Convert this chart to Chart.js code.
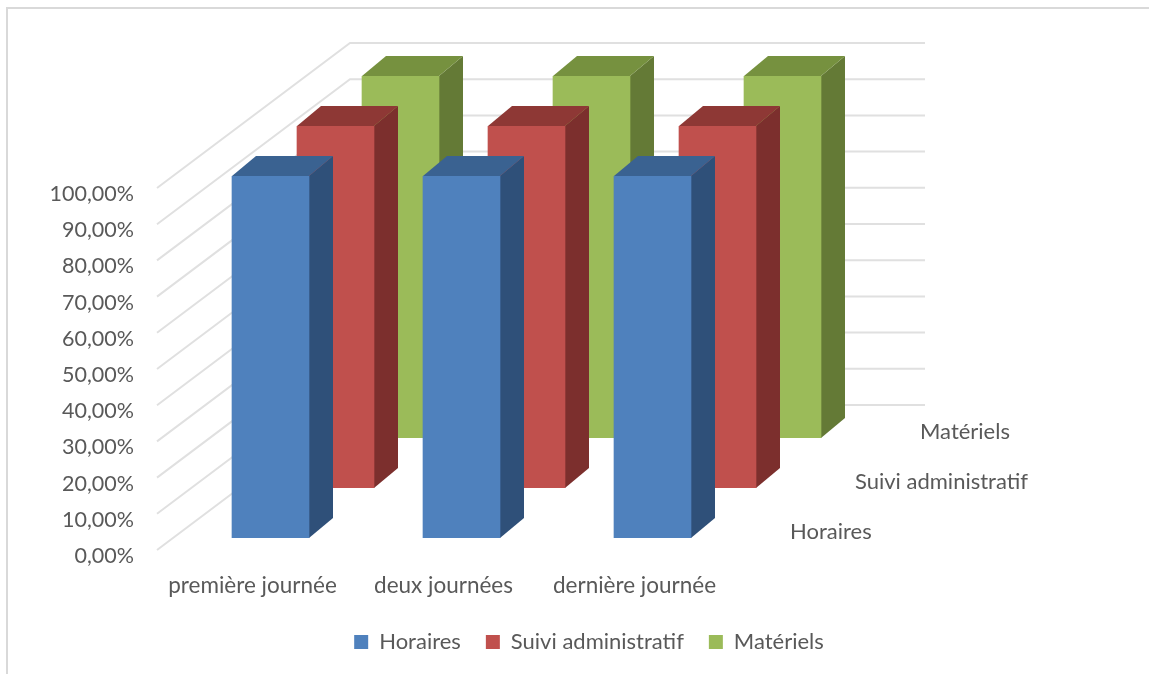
<!DOCTYPE html>
<html>
<head>
<meta charset="utf-8">
<title>Chart</title>
<script src="https://cdn.jsdelivr.net/npm/chart.js@4"></script>
<style>
    html, body { margin: 0; padding: 0; background: #fff; overflow: hidden; }
    canvas { display: block; }
</style>
</head>
<body>
<canvas id="chart3d" width="1149" height="674"></canvas>
<script>
const categories = ["première journée", "deux journées", "dernière journée"];
const seriesNames = ["Horaires", "Suivi administratif", "Matériels"];
const horaires = [100, 100, 100];
const suiviAdministratif = [100, 100, 100];
const materiels = [100, 100, 100];
const tickValues = [0, 10, 20, 30, 40, 50, 60, 70, 80, 90, 100];

const frontColors = ["#4f81bd", "#c0504d", "#9bbb59"];
const topColors = ["#3a6291", "#8e3835", "#76913f"];
const sideColors = ["#2f5079", "#7c2f2d", "#647a36"];

// offset of each row on the floor, the 3D look comes from this
const rowShift = [[18, -12], [83, -62], [148, -112]];
const barDepth = [24, -20];
const wallShift = [193, -145];
const wallRight = 925;
const textColor = "#595959";
const fontFamily = "Lato, 'Open Sans', sans-serif";

const fake3d = {
    id: "fake3d",
    // frame, walls and the row names on the right
    beforeDatasetsDraw(chart) {
        const ctx = chart.ctx;
        const y = chart.scales.y;
        const x = chart.scales.x;
        ctx.save();
        ctx.strokeStyle = "#d9d9d9";
        ctx.lineWidth = 2;
        ctx.beginPath();
        ctx.moveTo(7, 674);
        ctx.lineTo(7, 8);
        ctx.lineTo(1149, 8);
        ctx.stroke();

        ctx.strokeStyle = "#e0e0e0";
        ctx.lineWidth = 2;
        tickValues.forEach(v => {
            const py = y.getPixelForValue(v);
            ctx.beginPath();
            ctx.moveTo(x.left, py);
            ctx.lineTo(x.left + wallShift[0], py + wallShift[1]);
            ctx.lineTo(wallRight, py + wallShift[1]);
            ctx.stroke();
        });

        ctx.fillStyle = textColor;
        ctx.font = "22px " + fontFamily;
        ctx.textBaseline = "middle";
        seriesNames.forEach((name, i) => {
            ctx.fillText(name, x.right + rowShift[i][0] + 42, y.getPixelForValue(0) + rowShift[i][1] - 6);
        });
        ctx.restore();
    },
    beforeDatasetDraw(chart, args) {
        const ctx = chart.ctx;
        const i = args.index;
        ctx.save();
        ctx.translate(rowShift[i][0], rowShift[i][1]);
        args.meta.data.forEach(bar => {
            const p = bar.getProps(["x", "y", "base", "width"], true);
            const right = p.x + p.width / 2;
            const left = p.x - p.width / 2;
            ctx.fillStyle = sideColors[i];
            ctx.beginPath();
            ctx.moveTo(right, p.y);
            ctx.lineTo(right + barDepth[0], p.y + barDepth[1]);
            ctx.lineTo(right + barDepth[0], p.base + barDepth[1]);
            ctx.lineTo(right, p.base);
            ctx.closePath();
            ctx.fill();
            ctx.fillStyle = topColors[i];
            ctx.beginPath();
            ctx.moveTo(left, p.y);
            ctx.lineTo(left + barDepth[0], p.y + barDepth[1]);
            ctx.lineTo(right + barDepth[0], p.y + barDepth[1]);
            ctx.lineTo(right, p.y);
            ctx.closePath();
            ctx.fill();
        });
    },
    afterDatasetDraw(chart) {
        chart.ctx.restore();
    },
    // legend is centred on the plot box by default, the original has it further right
    afterLayout(chart) {
        chart.legend.left += 224;
        chart.legend.right += 224;
    }
};

new Chart(document.getElementById("chart3d").getContext("2d"), {
    type: "bar",
    data: {
        labels: categories,
        datasets: [
            { label: seriesNames[0], data: horaires, backgroundColor: frontColors[0] },
            { label: seriesNames[1], data: suiviAdministratif, backgroundColor: frontColors[1] },
            { label: seriesNames[2], data: materiels, backgroundColor: frontColors[2] }
        ]
    },
    options: {
        responsive: false,
        animation: false,
        layout: { padding: { top: 188, right: 419, bottom: 11, left: 0 } },
        datasets: { bar: { grouped: false, barThickness: 77 } },
        scales: {
            x: {
                grid: { display: false },
                border: { display: false },
                ticks: { color: textColor, font: { family: fontFamily, size: 22.5 }, padding: 14, maxRotation: 0 },
                afterFit(scale) { scale.height = 56; }
            },
            y: {
                min: 0,
                max: 100,
                grid: { display: false },
                border: { display: false },
                afterBuildTicks(scale) { scale.ticks = tickValues.map(v => ({ value: v })); },
                ticks: {
                    color: textColor,
                    font: { family: fontFamily, size: 21.5 },
                    padding: 15,
                    labelOffset: 6,
                    callback: v => v.toFixed(2).replace(".", ",") + "%"
                },
                afterFit(scale) { scale.width = 157; }
            }
        },
        plugins: {
            legend: {
                position: "bottom",
                labels: {
                    color: textColor,
                    font: { family: fontFamily, size: 22 },
                    boxWidth: 14,
                    boxHeight: 14,
                    padding: 25
                }
            },
            tooltip: { enabled: false }
        }
    },
    plugins: [fake3d]
});
</script>
</body>
</html>
